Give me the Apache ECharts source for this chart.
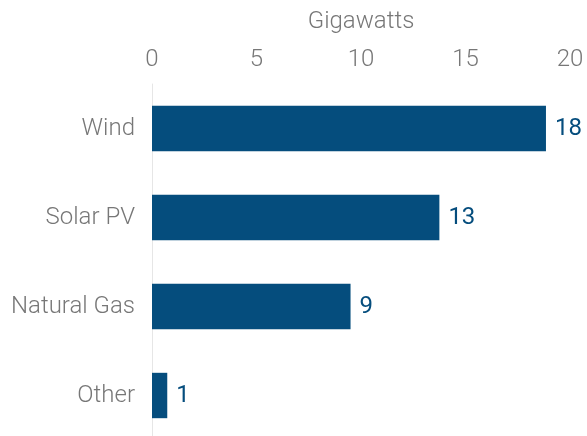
<!DOCTYPE html>
<html>
<head>
<meta charset="utf-8">
<script src="https://cdn.jsdelivr.net/npm/echarts@6/dist/echarts.min.js"></script>
<style>
  html, body { margin: 0; padding: 0; background: #fff; }
  #main { width: 587px; height: 436px; }
</style>
</head>
<body>
<div id="main"></div>
<script>
  // values
  var categories = ['Wind', 'Solar PV', 'Natural Gas', 'Other'];
  var gigawatts = [18.85, 13.75, 9.5, 0.73];
  var barLabels = ['18', '13', '9', '1'];
  var xTicks = [0, 5, 10, 15, 20];

  var grey = '#777777';
  var blue = '#054d7d';

  var chart = echarts.init(document.getElementById('main'));
  chart.setOption({
    animation: false,
    textStyle: { fontFamily: 'Roboto' },
    grid: { left: 152, right: 17, top: 84, height: 356, containLabel: false, outerBoundsMode: 'none' },
    xAxis: {
      type: 'value',
      position: 'top',
      min: xTicks[0],
      max: xTicks[xTicks.length - 1],
      interval: 5,
      name: 'Gigawatts',
      nameLocation: 'middle',
      nameGap: 50,
      nameTextStyle: { color: grey, fontSize: 24, fontWeight: 300 },
      axisLine: { show: false },
      axisTick: { show: false },
      splitLine: { show: false },
      axisLabel: { color: grey, fontSize: 24, fontWeight: 300, margin: 12 }
    },
    yAxis: {
      type: 'category',
      inverse: true,
      data: categories,
      axisLine: { show: true, lineStyle: { color: '#e6e6e6', width: 1 } },
      axisTick: { show: false },
      axisLabel: { color: grey, fontSize: 24, fontWeight: 300, margin: 17 }
    },
    series: [{
      type: 'bar',
      data: gigawatts,
      barCategoryGap: '49%',
      itemStyle: { color: blue },
      label: {
        show: true,
        position: 'right',
        distance: 9,
        color: blue,
        fontSize: 24,
        formatter: function (p) { return barLabels[p.dataIndex]; }
      }
    }]
  });
</script>
</body>
</html>
